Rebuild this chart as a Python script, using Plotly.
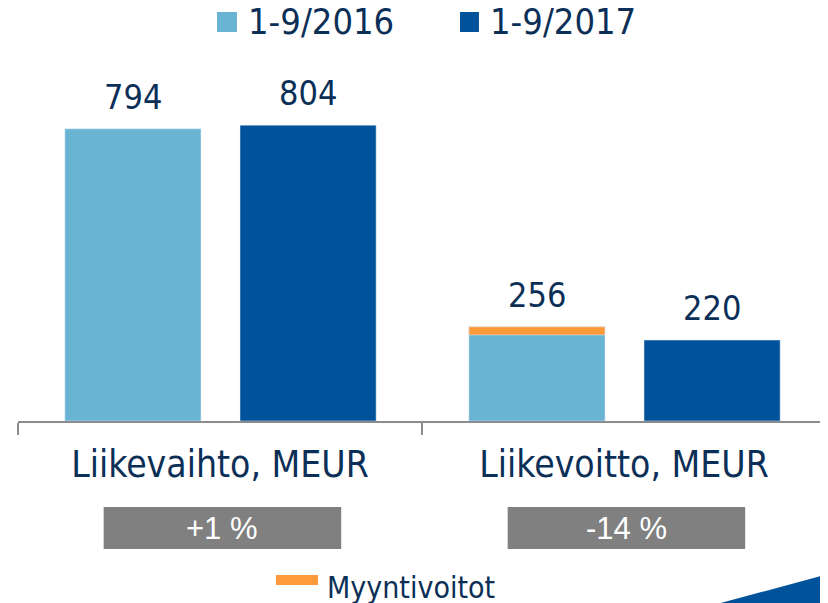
import plotly.graph_objects as go

categories = ["Liikevaihto, MEUR", "Liikevoitto, MEUR"]
series_names = ["1-9/2016", "1-9/2017"]
v2016 = [794, 256]
v2017 = [804, 220]
gains_category = ["Liikevoitto, MEUR"]
gains_value = [22]          # Myyntivoitot, part of 1-9/2016 operating profit
gains_total = [256]
changes = ["+1 %", "-14 %"]
gains_name = "Myyntivoitot"

C_LIGHT = "#6AB4D3"
C_DARK = "#00539B"
C_ORANGE = "#FF9A3C"
C_TEXT = "#0B2F57"
C_GRAY = "#808080"
FONT = "DejaVu Sans Condensed, DejaVu Sans, sans-serif"

W = 0.337
OFF = [-0.384, 0.0495]
COLORS = [C_LIGHT, C_DARK]

fig = go.Figure()
for name, vals, col, off in [(series_names[0], v2016, C_LIGHT, OFF[0]),
                             (series_names[1], v2017, C_DARK, OFF[1])]:
    fig.add_trace(go.Bar(x=categories, y=vals, name=name, marker_color=col,
                         width=W, offset=off, showlegend=False))

fig.add_trace(go.Bar(x=gains_category, y=gains_value,
                     base=[t - g for t, g in zip(gains_total, gains_value)],
                     marker_color=C_ORANGE, width=W, offset=OFF[0],
                     name=gains_name, showlegend=False))

annotations = []
shapes = []

# value labels
for i in range(len(categories)):
    for vals, off in [(v2016, OFF[0]), (v2017, OFF[1])]:
        annotations.append(dict(x=i + off + W / 2, y=vals[i], xref="x", yref="y",
                                text=str(vals[i]), showarrow=False, yanchor="bottom",
                                yshift=10, font=dict(size=34, color=C_TEXT, family=FONT)))

# change boxes
for i, ch in enumerate(changes):
    shapes.append(dict(type="rect", xref="x", yref="paper", x0=i - 0.288, x1=i + 0.3,
                       y0=-0.3546, y1=-0.2382, fillcolor=C_GRAY, line=dict(width=0),
                       layer="above"))
    annotations.append(dict(x=i + 0.006, y=(-0.3546 - 0.2382) / 2, xref="x", yref="paper",
                            text=ch, showarrow=False, yanchor="middle",
                            font=dict(size=31, color="white",
                                      family="Liberation Sans, Arial, sans-serif")))

# top legend (series)
leg_sq = [(0.2463, 0.2710), (0.5470, 0.5705)]
leg_tx = [0.2822, 0.5817]
for name, col, (x0, x1), tx in zip(series_names, COLORS, leg_sq, leg_tx):
    shapes.append(dict(type="rect", xref="paper", yref="paper", x0=x0, x1=x1,
                       y0=1.0776, y1=1.1330, fillcolor=col, line=dict(width=0)))
    annotations.append(dict(x=tx, y=1.106, xref="paper", yref="paper", text=name,
                            showarrow=False, xanchor="left", yanchor="middle",
                            font=dict(size=36, color=C_TEXT, family=FONT)))

# bottom legend (Myyntivoitot)
shapes.append(dict(type="rect", xref="paper", yref="paper", x0=0.3193, x1=0.3713,
                   y0=-0.4543, y1=-0.4266, fillcolor=C_ORANGE, line=dict(width=0)))
annotations.append(dict(x=0.3800, y=-0.462, xref="paper", yref="paper", text=gains_name,
                        showarrow=False, xanchor="left", yanchor="middle",
                        font=dict(size=30, color=C_TEXT, family=FONT)))

# corner decoration
shapes.append(dict(type="path", xref="paper", yref="paper",
                   path="M 0.860,-0.51 L 1.003,-0.424 L 1.003,-0.51 Z",
                   fillcolor=C_DARK, line=dict(width=0)))

fig.update_layout(
    width=820, height=595,
    margin=dict(l=10, r=2, t=52, b=182, autoexpand=False),
    plot_bgcolor="white", paper_bgcolor="white",
    barmode="overlay",
    font=dict(family=FONT, color=C_TEXT, size=34),
    xaxis=dict(type="category", range=[-0.5, 1.5], showline=True, linecolor="#8C8C8C",
               linewidth=2, ticks="outside", tickson="boundaries", ticklen=12,
               tickcolor="#8C8C8C", tickwidth=2, ticklabelstandoff=10,
               tickfont=dict(size=37, color=C_TEXT, family=FONT), automargin=False,
               showgrid=False),
    yaxis=dict(range=[0, 981], visible=False, showgrid=False, automargin=False),
    annotations=annotations,
    shapes=shapes,
    showlegend=False,
)

fig.write_html("out.html")
